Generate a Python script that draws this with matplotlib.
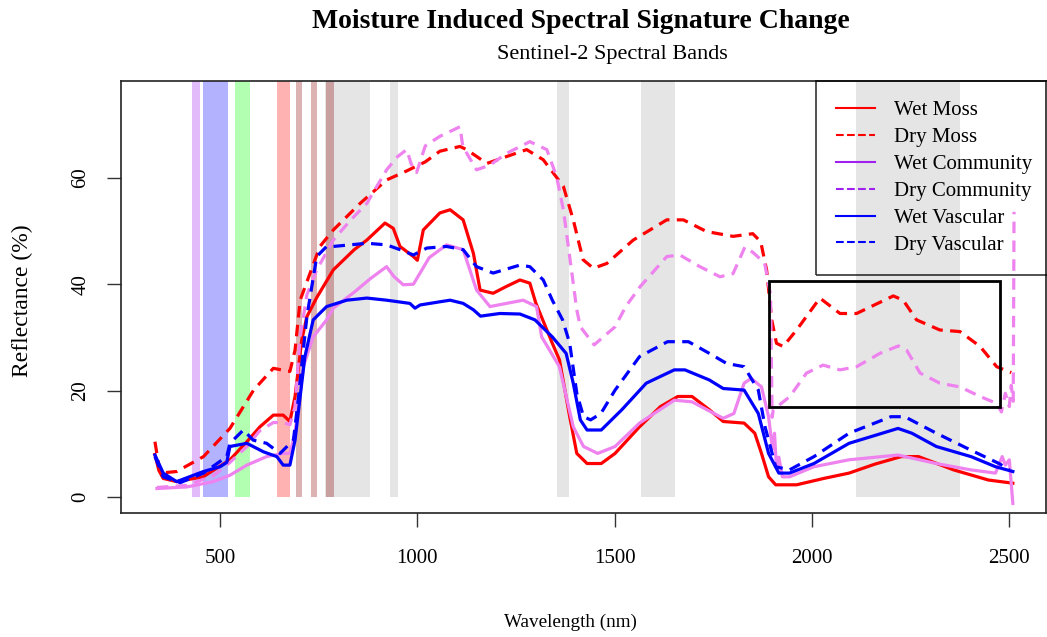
import matplotlib
matplotlib.use("Agg")
import matplotlib.pyplot as plt
from matplotlib.lines import Line2D
from matplotlib.patches import Rectangle

plt.rcParams['font.family'] = ['Liberation Serif', 'DejaVu Serif']

title = "Moisture Induced Spectral Signature Change"
subtitle = "Sentinel-2 Spectral Bands"
xlabel = "Wavelength (nm)"
ylabel = "Reflectance (%)"

# ---- Sentinel-2 bands (nm) ----
gray_bands = [(765, 880), (931, 950), (1353, 1383), (1566, 1654), (2111, 2375)]
color_bands = [(428, 448), (456, 521), (538, 576), (645, 676), (692, 707), (730, 746), (769, 788)]
color_band_colors = ['#A020F0', '#0000FF', '#00FF00', '#FF0000', '#8B0000', '#8B0000', '#8B0000']

# ---- spectra ----
wl_wet_moss = [335, 345, 356, 390, 457, 525, 568, 601, 635, 660, 677, 690, 707, 720, 745, 787, 840, 872,
               918, 939, 956, 990, 1000, 1015, 1057, 1083, 1116, 1142, 1159, 1192, 1226, 1260, 1285, 1300,
               1342, 1360, 1386, 1404, 1430, 1466, 1501, 1563, 1616, 1660, 1696, 1740, 1775, 1828, 1855,
               1872, 1890, 1908, 1961, 2030, 2094, 2160, 2226, 2270, 2359, 2447, 2509]
wet_moss = [8.0, 5.0, 3.5, 2.9, 3.8, 7.0, 10.4, 13.2, 15.4, 15.4, 14.2, 18.9, 29.5, 33.9, 37.5, 42.7, 46.5,
            48.3, 51.5, 50.5, 47.1, 45.2, 44.5, 50.2, 53.4, 54.0, 52.1, 45.8, 38.9, 38.3, 39.6, 40.8, 40.2,
            36.5, 28.9, 25.8, 15.1, 8.2, 6.3, 6.3, 8.2, 13.2, 17.0, 18.9, 18.9, 16.4, 14.2, 13.9, 12.0, 8.2,
            3.8, 2.3, 2.3, 3.5, 4.5, 6.2, 7.6, 7.6, 5.1, 3.2, 2.6]

wl_dry_moss = [335, 348, 390, 458, 525, 585, 635, 677, 690, 703, 753, 787, 855, 922, 973, 1020, 1057, 1108,
               1125, 1176, 1226, 1277, 1319, 1370, 1395, 1420, 1446, 1480, 1547, 1632, 1674, 1733, 1800,
               1850, 1870, 1885, 1898, 1910, 1927, 1961, 2020, 2071, 2113, 2206, 2231, 2265, 2324, 2375,
               2426, 2468, 2505]
dry_moss = [10.4, 4.5, 4.8, 7.6, 12.9, 20.1, 24.2, 23.6, 27.6, 37.0, 47.1, 50.2, 55.2, 59.6, 61.3, 63.0,
            65.0, 65.9, 65.3, 62.7, 64.0, 65.3, 63.4, 58.4, 52.1, 44.6, 43.0, 43.9, 48.3, 52.1, 52.1, 49.9,
            49.0, 49.5, 48.0, 42.7, 33.3, 28.9, 28.3, 31.4, 37.4, 34.5, 34.5, 37.8, 37.0, 33.3, 31.4, 31.1,
            28.3, 24.5, 23.4]

wl_wet_comm = [340, 416, 483, 525, 568, 618, 660, 677, 690, 711, 736, 770, 787, 840, 880, 922, 940, 964,
               990, 1030, 1074, 1116, 1150, 1184, 1226, 1268, 1302, 1315, 1360, 1395, 1421, 1457, 1501,
               1563, 1651, 1696, 1775, 1802, 1828, 1846, 1872, 1890, 1900, 1905, 1910, 1916, 1925, 1943,
               2005, 2094, 2218, 2315, 2403, 2465, 2482, 2490, 2500, 2509]
wet_comm = [1.6, 1.9, 2.9, 4.1, 6.0, 7.6, 8.2, 8.2, 12.0, 24.5, 30.1, 33.3, 35.5, 38.5, 41.0, 43.3, 41.5,
            39.9, 40.0, 45.0, 47.4, 46.5, 38.9, 35.8, 36.4, 37.0, 35.8, 30.1, 24.5, 13.2, 9.5, 8.2, 9.5,
            13.9, 18.2, 17.9, 14.8, 15.7, 21.4, 22.3, 20.7, 15.1, 9.0, 12.0, 5.5, 7.5, 3.8, 3.8, 5.7, 7.0,
            7.9, 6.3, 5.1, 4.5, 7.6, 6.0, 7.0, -1.2]

wl_dry_comm = [340, 416, 483, 525, 568, 601, 635, 660, 677, 690, 703, 720, 745, 787, 830, 872, 922, 950,
               973, 985, 998, 1020, 1057, 1108, 1115, 1130, 1150, 1184, 1226, 1285, 1328, 1353, 1370, 1387,
               1404, 1413, 1448, 1501, 1528, 1564, 1632, 1665, 1716, 1767, 1800, 1830, 1850, 1880, 1895,
               1899, 1902, 1944, 1986, 2028, 2071, 2113, 2172, 2219, 2240, 2274, 2324, 2375, 2426, 2468,
               2480, 2490, 2500, 2505, 2510, 2512]
dry_comm = [1.8, 2.2, 4.0, 6.5, 9.5, 12.5, 14.0, 14.0, 13.6, 17.0, 30.0, 38.0, 42.7, 48.3, 52.0, 55.2,
            61.5, 64.0, 65.3, 62.5, 61.0, 66.0, 67.8, 69.6, 66.0, 64.0, 61.5, 62.4, 64.6, 66.8, 65.3, 60.2,
            54.0, 44.6, 35.2, 32.0, 28.6, 32.0, 35.8, 39.5, 45.2, 45.5, 43.3, 41.4, 42.0, 47.0, 46.0, 44.0,
            38.0, 15.0, 16.4, 18.9, 23.3, 24.8, 23.9, 24.5, 27.0, 28.4, 27.6, 23.3, 21.4, 20.7, 18.9, 17.6,
            16.0, 19.5, 17.0, 21.0, 18.0, 53.6]

wl_wet_vasc = [335, 356, 390, 458, 500, 517, 525, 568, 610, 644, 660, 677, 690, 707, 715, 736, 770, 821,
               872, 922, 981, 994, 1007, 1057, 1083, 1116, 1142, 1160, 1209, 1260, 1298, 1342, 1377, 1395,
               1413, 1430, 1466, 1518, 1580, 1651, 1678, 1740, 1775, 1828, 1864, 1890, 1916, 1943, 2005,
               2094, 2218, 2253, 2315, 2403, 2465, 2509]
wet_vasc = [7.9, 4.5, 2.9, 4.8, 5.7, 6.5, 9.5, 10.1, 8.5, 7.6, 6.0, 6.0, 10.7, 21.4, 26.4, 33.3, 35.8, 37.0,
            37.4, 37.0, 36.4, 35.5, 36.1, 36.7, 37.0, 36.4, 35.2, 34.0, 34.5, 34.4, 33.3, 30.1, 27.0, 21.4,
            14.5, 12.6, 12.6, 16.4, 21.4, 23.9, 23.9, 22.0, 20.4, 20.1, 15.7, 8.2, 4.5, 4.5, 6.3, 10.1, 12.9,
            12.0, 9.5, 7.6, 5.7, 4.8]

wl_dry_vasc = [335, 356, 399, 458, 517, 525, 559, 584, 618, 652, 686, 698, 711, 720, 745, 770, 787, 872,
               922, 956, 990, 1024, 1074, 1116, 1150, 1192, 1260, 1285, 1319, 1342, 1368, 1386, 1404, 1421,
               1439, 1465, 1501, 1563, 1634, 1687, 1740, 1784, 1828, 1864, 1881, 1908, 1943, 2005, 2094,
               2200, 2235, 2315, 2403, 2474, 2500]
dry_vasc = [7.6, 3.8, 2.7, 4.5, 7.6, 10.1, 12.6, 10.7, 10.1, 8.2, 10.7, 18.2, 27.6, 33.9, 45.2, 47.1, 47.1,
            47.7, 47.4, 46.5, 45.5, 46.8, 47.1, 46.5, 43.3, 42.1, 43.6, 43.3, 40.8, 37.0, 33.3, 28.9, 19.5,
            15.1, 14.5, 15.7, 20.1, 26.4, 29.2, 29.2, 27.0, 25.1, 24.5, 20.1, 13.2, 5.7, 5.1, 7.6, 12.0, 15.1,
            15.1, 12.0, 8.8, 6.3, 5.1]

# highlighted region
roi_x = (1890, 2476)
roi_y = (17.0, 40.6)

legend_labels = ["Wet Moss", "Dry Moss", "Wet Community", "Dry Community", "Wet Vascular", "Dry Vascular"]
legend_colors = ['#FF0000', '#FF0000', '#A020F0', '#A020F0', '#0000FF', '#0000FF']
legend_styles = ['-', '--', '-', '--', '-', '--']

W, H = 1047, 637
fig = plt.figure(figsize=(W / 100, H / 100), dpi=100)
ax = fig.add_axes([121 / W, (H - 513) / H, (1046 - 121) / W, (513 - 81) / H])
ax.set_xlim(249, 2593)
ax.set_ylim(-3.0, 78.2)

for a, b in gray_bands:
    ax.fill_betweenx([0, 200], a, b, color='#BEBEBE', alpha=0.4, lw=0, zorder=1)
for (a, b), c in zip(color_bands, color_band_colors):
    ax.fill_betweenx([0, 200], a, b, color=c, alpha=0.3, lw=0, zorder=1)

LW = 2.3
DASH = (3.6, 2.3)
ax.plot(wl_wet_moss, wet_moss, color='#FF0000', lw=LW, zorder=3)
ax.plot(wl_dry_moss, dry_moss, color='#FF0000', lw=LW, dashes=DASH, zorder=3)
ax.plot(wl_wet_comm, wet_comm, color='#EE82EE', lw=LW, zorder=3)
ax.plot(wl_dry_comm, dry_comm, color='#EE82EE', lw=LW, dashes=DASH, zorder=3)
ax.plot(wl_wet_vasc, wet_vasc, color='#0000FF', lw=LW, zorder=3)
ax.plot(wl_dry_vasc, dry_vasc, color='#0000FF', lw=LW, dashes=DASH, zorder=3)

ax.add_patch(Rectangle((roi_x[0], roi_y[0]), roi_x[1] - roi_x[0], roi_y[1] - roi_y[0],
                       fill=False, ec='black', lw=2.0, zorder=4))

ax.set_xticks([500, 1000, 1500, 2000, 2500])
ax.set_yticks([0, 20, 40, 60])
ax.tick_params(axis='both', length=10, width=1, labelsize=15, color='#333333')
ax.tick_params(axis='x', pad=16)
ax.tick_params(axis='y', pad=12)
for lab in ax.get_yticklabels():
    lab.set_rotation(90)
    lab.set_va('center')
for s in ax.spines.values():
    s.set_linewidth(1.2)
    s.set_color('#222222')

handles = [Line2D([0], [0], color=c, lw=1.5, ls=s) for c, s in zip(legend_colors, legend_styles)]
leg = ax.legend(handles, legend_labels, loc='upper right', bbox_to_anchor=(1.0 + 6 / 925, 1.0),
                fontsize=15, frameon=True, fancybox=False, borderaxespad=0, handlelength=1.9,
                handletextpad=0.9, labelspacing=0.35, borderpad=0.95)
leg.get_frame().set_edgecolor('black')
leg.get_frame().set_linewidth(1.2)
leg.get_frame().set_facecolor('none')

fig.text(581 / W, 1 - 21 / H, title, ha='center', va='center', fontsize=20, fontweight='bold')
fig.text(612 / W, 1 - 55 / H, subtitle, ha='center', va='center', fontsize=16)
fig.text(570 / W, 1 - 622 / H, xlabel, ha='center', va='center', fontsize=13.8)
fig.text(22 / W, 1 - 301 / H, ylabel, ha='center', va='center', rotation=90, fontsize=17)

fig.savefig('out.png', dpi=100)
